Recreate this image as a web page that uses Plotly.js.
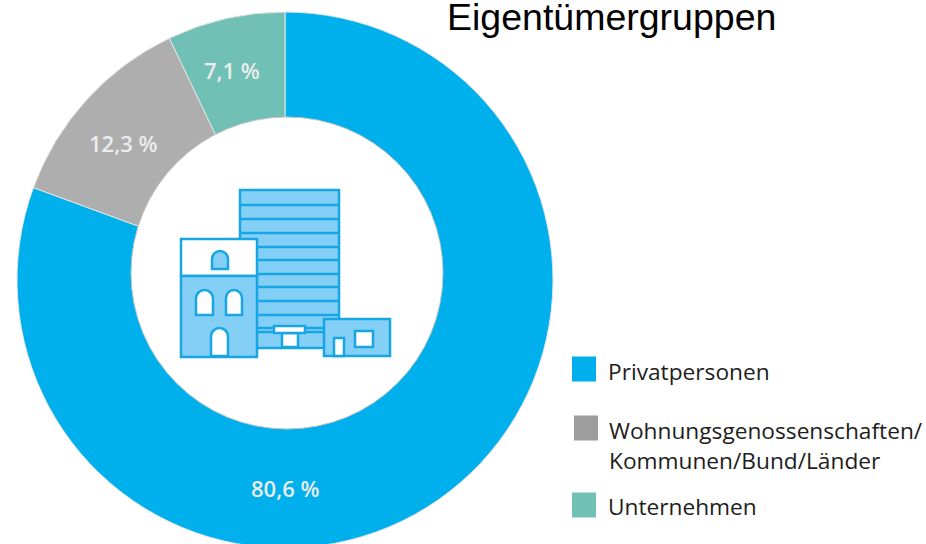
<!DOCTYPE html>
<html><head><meta charset="utf-8">
<script src="https://cdn.plot.ly/plotly-3.0.1.min.js"></script>
<style>html,body{margin:0;padding:0;background:#fff;overflow:hidden}#c{width:926px;height:560px}</style>
</head><body><div id="c"></div>
<script>
const categories = ["Privatpersonen", "Wohnungsgenossenschaften/<br>Kommunen/Bund/Länder", "Unternehmen"];
const shares = [80.6, 12.3, 7.1];
const shareLabels = ["80,6 %", "12,3 %", "7,1 %"];
const colors = ["#00b0ec", "#aeaeae", "#71c0b5"];
const legendSwatch = ["#00b0ec", "#9d9d9d", "#71c0b5"];
const chartTitle = "Eigentümergruppen";

const W = 926, H = 560;
const fx = x => x / W, fy = y => 1 - y / H;
const LIGHT = "#84cff5", LINE = "#17a6e3", LW = 2.5;
const rect = (x0, y0, x1, y1, fill) => ({type:"rect", xref:"paper", yref:"paper",
  x0:fx(x0), x1:fx(x1), y0:fy(y0), y1:fy(y1), fillcolor:fill, line:{color:LINE, width:LW}});
const seg = (x0, y0, x1, y1) => ({type:"line", xref:"paper", yref:"paper",
  x0:fx(x0), x1:fx(x1), y0:fy(y0), y1:fy(y1), line:{color:LINE, width:LW}});
const pt = (x, y) => fx(x).toFixed(5) + "," + fy(y).toFixed(5);
const arch = (x0, x1, top, bottom, fill) => {
  const r = (x1 - x0) / 2, s = top + r, k = r * 0.55, m = x0 + r;
  return {type:"path", xref:"paper", yref:"paper", fillcolor:fill, line:{color:LINE, width:LW},
    path:"M" + pt(x0,bottom) + " L" + pt(x0,s) +
      " C" + pt(x0,s-k) + " " + pt(m-k,top) + " " + pt(m,top) +
      " C" + pt(m+k,top) + " " + pt(x1,s-k) + " " + pt(x1,s) +
      " L" + pt(x1,bottom) + " Z"};
};

// the reference's white centre sits slightly off the ring's centre
const centre = {type:"circle", xref:"paper", yref:"paper",
  x0:fx(131), x1:fx(443), y0:fy(117), y1:fy(429), fillcolor:"#ffffff", line:{color:"#c4c4c4", width:1}};

const icon = [centre, rect(240,190,339,348,LIGHT)];
[205,219,233,247,260,274,287,301,315].forEach(y => icon.push(seg(240,y,339,y)));
icon.push(seg(257,328,274,328), seg(257,332,274,332), seg(305,328,324,328), seg(305,332,324,332));
icon.push(rect(181,239,257,276,"#ffffff"), rect(181,276,257,357,LIGHT));
icon.push(arch(212,228,251,269,LIGHT), arch(196,213,290,315,"#ffffff"),
          arch(226,242,290,315,"#ffffff"), arch(211,228,328,356,"#ffffff"));
icon.push(rect(324,319,390,356,LIGHT), rect(355,331,373,347,"#ffffff"), rect(334,338,344,356,"#ffffff"));
icon.push(rect(282,333,298,347,"#ffffff"), rect(274,326,305,333,"#ffffff"));

const swatchY = [369, 428, 505], swatchX = [572, 574, 572];
const legendShapes = swatchY.map((y,i) => ({type:"rect", xref:"paper", yref:"paper",
  x0:fx(swatchX[i]), x1:fx(swatchX[i]+24), y0:fy(y-12.5), y1:fy(y+12.5),
  fillcolor:legendSwatch[i], line:{width:0}}));

const legendLabelY = [371, 445, 506], legendLabelX = [606, 607, 606];
const legendText = categories.map((t,i) => ({
  xref:"paper", yref:"paper", x:fx(legendLabelX[i]), y:fy(legendLabelY[i]),
  xanchor:"left", yanchor:"middle", align:"left", showarrow:false, text:t,
  font:{family:"Open Sans", size:22.7, color:"#1d1d1b"}}));

const labelX = [285, 123, 232], labelY = [488, 143, 70];
const sliceText = shareLabels.map((t,i) => ({xref:"paper", yref:"paper", x:fx(labelX[i]), y:fy(labelY[i]),
  xanchor:"center", yanchor:"middle", showarrow:false, text:t,
  font:{family:"Open Sans", size:22, color:"#ececec", weight:600}}));

const titleAnn = {xref:"paper", yref:"paper", x:fx(445), y:fy(17), xanchor:"left", yanchor:"middle",
  showarrow:false, text:chartTitle, font:{family:"Liberation Sans", size:37.5, color:"#000"}};

Plotly.newPlot("c", [{
  type:"pie", labels:categories, values:shares, textinfo:"none",
  hole:0.55, sort:false, direction:"clockwise", rotation:0, showlegend:false,
  marker:{colors:colors, line:{color:"#e4e4e4", width:1}},
  domain:{x:[17/W, 553/W], y:[(H-548)/H, (H-12)/H]}
}], {
  width:W, height:H, margin:{l:0,r:0,t:0,b:0}, paper_bgcolor:"#fff",
  shapes:icon.concat(legendShapes), annotations:legendText.concat(sliceText, [titleAnn])
}, {displayModeBar:false, staticPlot:true});
</script></body></html>
